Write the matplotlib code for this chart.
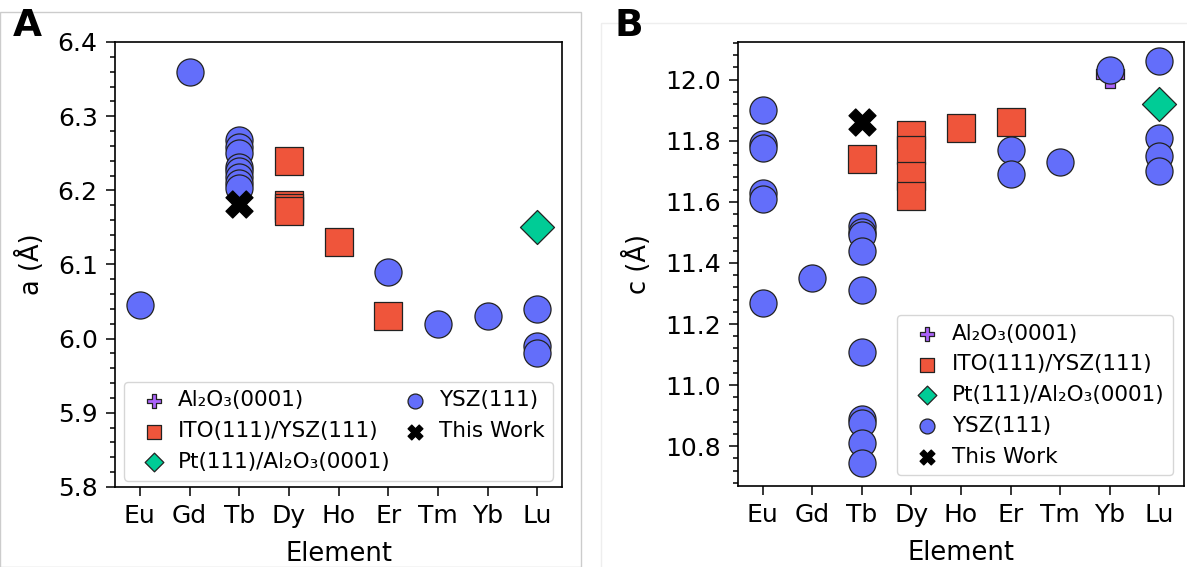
import matplotlib.pyplot as plt
from matplotlib.patches import Rectangle
from matplotlib.ticker import AutoMinorLocator, MultipleLocator

# element order on the x axis
elements = ["Eu", "Gd", "Tb", "Dy", "Ho", "Er", "Tm", "Yb", "Lu"]

# panel A: lattice parameter a (Å)
a_al2o3_el = []
a_al2o3 = []
a_ito_el = ["Dy", "Dy", "Dy", "Dy", "Ho", "Er"]
a_ito = [6.24, 6.18, 6.176, 6.172, 6.13, 6.03]
a_pt_el = ["Lu"]
a_pt = [6.15]
a_ysz_el = ["Eu", "Gd", "Tb", "Tb", "Tb", "Tb", "Tb", "Tb", "Tb", "Tb",
            "Er", "Tm", "Yb", "Lu", "Lu", "Lu"]
a_ysz = [6.045, 6.36, 6.268, 6.259, 6.251, 6.232, 6.226, 6.218, 6.21, 6.203,
         6.09, 6.02, 6.03, 6.04, 5.99, 5.98]
a_this_el = ["Tb"]
a_this = [6.182]

# panel B: lattice parameter c (Å)
c_al2o3_el = ["Yb"]
c_al2o3 = [12.018]
c_ito_el = ["Tb", "Dy", "Dy", "Dy", "Dy", "Ho", "Er"]
c_ito = [11.74, 11.82, 11.77, 11.685, 11.62, 11.84, 11.86]
c_pt_el = ["Lu"]
c_pt = [11.92]
c_ysz_el = ["Eu", "Eu", "Eu", "Eu", "Eu", "Eu", "Gd",
            "Tb", "Tb", "Tb", "Tb", "Tb", "Tb", "Tb", "Tb", "Tb", "Tb",
            "Er", "Er", "Tm", "Yb", "Lu", "Lu", "Lu", "Lu"]
c_ysz = [11.90, 11.79, 11.775, 11.63, 11.61, 11.27, 11.35,
         11.52, 11.50, 11.49, 11.44, 11.31, 11.11, 10.89, 10.875, 10.81, 10.745,
         11.77, 11.69, 11.73, 12.03, 12.06, 11.81, 11.75, 11.70]
c_this_el = ["Tb"]
c_this = [11.86]

W, H = 1187, 567
STYLE = {
    "Al₂O₃(0001)": ("#AB63FA", "P"),
    "ITO(111)/YSZ(111)": ("#EF553B", "s"),
    "Pt(111)/Al₂O₃(0001)": ("#00CC96", "D"),
    "YSZ(111)": ("#636EFA", "o"),
    "This Work": ("black", "X"),
}


def px_axes(fig, left, top, right, bottom):
    return fig.add_axes([left / W, 1 - bottom / H, (right - left) / W, (bottom - top) / H])


def draw(ax, series):
    for label, els, vals in series:
        color, marker = STYLE[label]
        x = [elements.index(e) for e in els]
        size = 300 if marker == "D" else 380
        ax.scatter(x, vals, s=size, color=color, marker=marker, label=label,
                   edgecolors="#222222" if marker != "X" else "black",
                   linewidths=0.9, zorder=3)
    ax.set_xticks(range(len(elements)))
    ax.set_xticklabels(elements)
    ax.set_xlim(-0.5, 8.5)
    ax.set_xlabel("Element", fontsize=18.5, labelpad=9)
    ax.tick_params(axis="both", labelsize=18, length=6.5, width=1.1, pad=6)
    ax.tick_params(axis="y", which="minor", length=3.6, width=1.1)
    for sp in ax.spines.values():
        sp.set_linewidth(1.2)


fig = plt.figure(figsize=(W / 100, H / 100), dpi=100)

# outline frames of the two original panels
fig.add_artist(Rectangle((0, 0), 581 / W, 1 - 12 / H, transform=fig.transFigure,
                         fill=False, edgecolor="#cccccc", linewidth=1.0))
fig.add_artist(Rectangle((601 / W, -0.05), 1, 1.05 - 23 / H, transform=fig.transFigure,
                         fill=False, edgecolor="#eeeeee", linewidth=1.0))

ax1 = px_axes(fig, 115, 42, 562, 487)
draw(ax1, [
    ("Al₂O₃(0001)", a_al2o3_el, a_al2o3),
    ("ITO(111)/YSZ(111)", a_ito_el, a_ito),
    ("Pt(111)/Al₂O₃(0001)", a_pt_el, a_pt),
    ("YSZ(111)", a_ysz_el, a_ysz),
    ("This Work", a_this_el, a_this),
])
ax1.set_ylim(5.8, 6.4)
ax1.yaxis.set_major_locator(MultipleLocator(0.1))
ax1.yaxis.set_minor_locator(AutoMinorLocator(5))
ax1.set_ylabel("a (Å)", fontsize=18.5, labelpad=9)
ax1.legend(loc="lower center", ncol=2, fontsize=15.5, markerscale=0.55,
           handletextpad=0.12, columnspacing=0.15, borderaxespad=0.3)

ax2 = px_axes(fig, 738, 42, 1184, 486)
draw(ax2, [
    ("Al₂O₃(0001)", c_al2o3_el, c_al2o3),
    ("ITO(111)/YSZ(111)", c_ito_el, c_ito),
    ("Pt(111)/Al₂O₃(0001)", c_pt_el, c_pt),
    ("YSZ(111)", c_ysz_el, c_ysz),
    ("This Work", c_this_el, c_this),
])
ax2.set_ylim(10.67, 12.123)
ax2.yaxis.set_major_locator(MultipleLocator(0.2))
ax2.yaxis.set_minor_locator(AutoMinorLocator(5))
ax2.set_ylabel("c (Å)", fontsize=18.5, labelpad=9)
ax2.legend(loc="lower right", fontsize=15.5, markerscale=0.55, handletextpad=0.15)

fig.text(13 / W, 1 - 8 / H, "A", fontsize=27, fontweight="bold", va="top", ha="left")
fig.text(615 / W, 1 - 8 / H, "B", fontsize=27, fontweight="bold", va="top", ha="left")

fig.savefig("out.png", dpi=100)
